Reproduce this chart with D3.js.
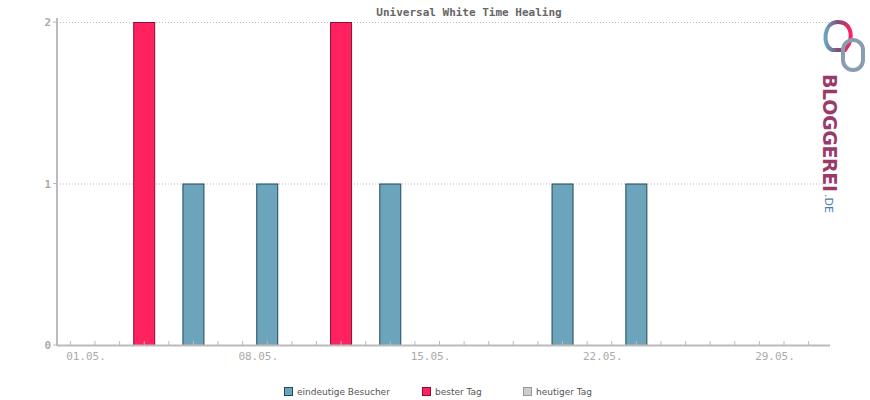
<!DOCTYPE html>
<html><head><meta charset="utf-8">
<script src="https://cdn.jsdelivr.net/npm/d3@7"></script>
<style>body{margin:0;background:#fff}</style></head>
<body><svg id="c" width="870" height="400"></svg>
<script>
const title = "Universal White Time Healing";
const days = [3,5,8,11,13,20,23];
const visitors = [0,1,1,0,1,1,1];
const best = [2,0,0,2,0,0,0];
const tickLabels = ["01.05.","08.05.","15.05.","22.05.","29.05."];
const tickDays = [1,8,15,22,29];
const legend = ["eindeutige Besucher","bester Tag","heutiger Tag"];

const svg = d3.select("#c");
const font = "'DejaVu Sans Mono', monospace";
const x = d3.scaleLinear().domain([1,29]).range([95,784]);
const y = d3.scaleLinear().domain([0,2]).range([345,22]);
const L = 57, R = 830;

svg.append("text").attr("x",469).attr("y",16).attr("text-anchor","middle")
  .attr("font-family",font).attr("font-size",11).attr("font-weight","bold").attr("fill","#666").text(title);

// grid
[1,2].forEach(v=>svg.append("line").attr("x1",L).attr("x2",R).attr("y1",y(v)+0.5).attr("y2",y(v)+0.5)
  .attr("stroke","#bbb").attr("stroke-dasharray","1,2"));

// bars
const w = 22;
days.forEach((d,i)=>{
  const v = best[i] || visitors[i];
  const isBest = best[i]>0;
  svg.append("rect").attr("x",x(d)-w/2+0.5).attr("y",y(v)+0.5).attr("width",w-1).attr("height",y(0)-y(v))
    .attr("fill",isBest?"#ff2160":"#6ca4bb").attr("stroke",isBest?"#8a0e30":"#1d4a5e").attr("stroke-width",1);
});

// axes
svg.append("line").attr("x1",L).attr("x2",R).attr("y1",345.5).attr("y2",345.5).attr("stroke","#bbb").attr("stroke-width",2);
svg.append("line").attr("x1",L).attr("x2",L).attr("y1",18).attr("y2",346).attr("stroke","#bbb").attr("stroke-width",2);
d3.range(0,31).forEach(d=>{
  svg.append("line").attr("x1",x(d)).attr("x2",x(d)).attr("y1",341).attr("y2",345).attr("stroke","#bbb");
});
[0,1,2].forEach(v=>{
  svg.append("line").attr("x1",L-4).attr("x2",L).attr("y1",y(v)).attr("y2",y(v)).attr("stroke","#bbb");
  svg.append("text").attr("x",L-6).attr("y",y(v)+4).attr("text-anchor","end").attr("font-family",font)
    .attr("font-size",11).attr("font-weight","bold").attr("fill","#aaa").text(v);
});
tickDays.forEach((d,i)=>svg.append("text").attr("x",x(d)-9).attr("y",360).attr("text-anchor","middle")
  .attr("font-family",font).attr("font-size",11).attr("fill","#aaa").text(tickLabels[i]));

// legend
const lx=[284,422,523], lc=["#6ca4bb","#ff2160","#ccc"], ls=["#1d4a5e","#8a0e30","#999"];
legend.forEach((t,i)=>{
  svg.append("rect").attr("x",lx[i]+0.5).attr("y",387.5).attr("width",8).attr("height",8).attr("fill",lc[i]).attr("stroke",ls[i]);
  svg.append("text").attr("x",lx[i]+13).attr("y",395).attr("font-family","'DejaVu Sans', sans-serif").attr("font-size",9).attr("fill","#555").text(t);
});

// logo
const g = svg.append("g");
const grad = g.append("defs").append("linearGradient").attr("id","lg").attr("x1","0").attr("x2","1");
grad.append("stop").attr("offset","0").attr("stop-color","#6ca4bb");
grad.append("stop").attr("offset","0.5").attr("stop-color","#7a4f78");
grad.append("stop").attr("offset","1").attr("stop-color","#ff2160");
g.append("path").attr("d","M832,50 C822,46 823,22 838,22 C850,22 853,34 849,44 L845,50 Z")
  .attr("fill","none").attr("stroke","url(#lg)").attr("stroke-width",4);
g.append("rect").attr("x",843).attr("y",40).attr("width",20).attr("height",30).attr("rx",10)
  .attr("fill","none").attr("stroke","#8a9db0").attr("stroke-width",4);
g.append("text").attr("transform","translate(823,74) rotate(90)").attr("font-family","'DejaVu Sans', sans-serif")
  .attr("font-weight","bold").attr("font-size",19).attr("fill","#9a3a6a").attr("textLength",118).text("BLOGGEREI");
g.append("text").attr("transform","translate(825,194) rotate(90)").attr("font-family","'DejaVu Sans', sans-serif")
  .attr("font-size",11).attr("fill","#4a7ab0").text(".DE");
</script></body></html>
